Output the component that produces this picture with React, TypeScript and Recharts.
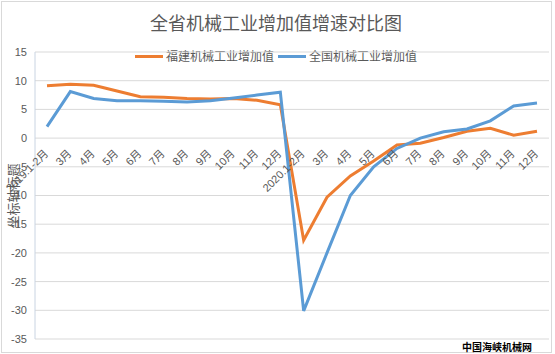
import React from 'react'
import { LineChart, Line, XAxis, YAxis, CartesianGrid } from 'recharts'

// x-axis categories: 2019 and 2020, cumulative months
const categories = [
  '2019.1-2月', '3月', '4月', '5月', '6月', '7月', '8月', '9月', '10月', '11月', '12月',
  '2020.1-2月', '3月', '4月', '5月', '6月', '7月', '8月', '9月', '10月', '11月', '12月',
]

// growth rate, %
const fujianValues = [
  9.1, 9.4, 9.2, 8.2, 7.2, 7.1, 6.9, 6.8, 6.9, 6.6, 5.8,
  -17.8, -10.3, -6.6, -4.0, -1.2, -0.9, 0.1, 1.2, 1.7, 0.5, 1.2,
]
const nationalValues = [
  2.0, 8.1, 6.9, 6.5, 6.5, 6.4, 6.3, 6.5, 7.0, 7.5, 8.0,
  -30.1, -20.0, -10.0, -5.0, -1.8, 0.0, 1.1, 1.6, 3.0, 5.6, 6.1,
]

const yTicks = [-35, -30, -25, -20, -15, -10, -5, 0, 5, 10, 15]

const seriesNames = ['福建机械工业增加值', '全国机械工业增加值']
const seriesColors = ['#ED7D31', '#5B9BD5']

const data = categories.map((label, i) => ({
  label,
  fujian: fujianValues[i],
  national: nationalValues[i],
}))

const W = 555
const H = 354
const PLOT_TOP = 52
const PLOT_BOTTOM = 15
const PLOT_H = H - PLOT_TOP - PLOT_BOTTOM
// the category labels sit under the 0 line, as in Excel
const ZERO_Y = PLOT_TOP + PLOT_H * (15 / 50)

const FONT = "'Liberation Sans', 'Noto Sans CJK SC', sans-serif"
const CJK = "'Noto Sans CJK SC', sans-serif"

const renderXTick = (props: any) => {
  const { x, payload, index } = props
  const tx = x + 2
  const ty = ZERO_Y + 16
  return (
    <text
      key={index}
      x={tx}
      y={ty}
      transform={`rotate(-45 ${tx} ${ty})`}
      textAnchor="end"
      fontSize={11}
      fontFamily={FONT}
      fill="#595959"
    >
      {payload.value}
    </text>
  )
}

export default function App() {
  return (
    <div style={{ position: 'absolute', left: 0, top: 0, width: W, height: H, background: '#fff' }}>
      <div
        style={{
          position: 'absolute', left: 1, top: 1, width: 551, height: 352,
          border: '1px solid #d9d9d9', boxSizing: 'border-box',
        }}
      />
      <div
        style={{
          position: 'absolute', left: 0, top: 9, width: 552, textAlign: 'center',
          fontFamily: CJK, fontSize: 18, color: '#595959', lineHeight: '26px',
        }}
      >
        全省机械工业增加值增速对比图
      </div>

      <div
        style={{
          position: 'absolute', left: 0, top: 47, width: 552, display: 'flex',
          justifyContent: 'center', gap: 4, fontFamily: CJK, fontSize: 12,
          color: '#595959', lineHeight: '18px',
        }}
      >
        {seriesNames.map((name, i) => (
          <div key={name} style={{ display: 'flex', alignItems: 'center' }}>
            <span style={{ display: 'inline-block', width: 28, height: 3, background: seriesColors[i], marginRight: 3 }} />
            {name}
          </div>
        ))}
      </div>

      <div style={{ position: 'absolute', left: 0, top: 0 }}>
        <LineChart
          width={W}
          height={H}
          data={data}
          margin={{ top: PLOT_TOP, right: 6, bottom: PLOT_BOTTOM - 1, left: 5 }}
        >
          <CartesianGrid vertical={false} stroke="#d9d9d9" />
          <XAxis
            dataKey="label"
            height={1}
            interval={0}
            padding={{ left: 12, right: 12 }}
            axisLine={false}
            tickLine={false}
            tick={renderXTick}
          />
          <YAxis
            width={30}
            domain={[-35, 15]}
            ticks={yTicks}
            interval={0}
            axisLine={{ stroke: '#c9d4e2' }}
            tickLine={false}
            tick={{ fontSize: 11, fill: '#595959', fontFamily: FONT }}
          />
          <Line
            type="linear"
            dataKey="fujian"
            name={seriesNames[0]}
            stroke={seriesColors[0]}
            strokeWidth={3}
            dot={false}
            isAnimationActive={false}
          />
          <Line
            type="linear"
            dataKey="national"
            name={seriesNames[1]}
            stroke={seriesColors[1]}
            strokeWidth={3}
            dot={false}
            isAnimationActive={false}
          />
        </LineChart>
      </div>

      <div
        style={{
          position: 'absolute', left: 13 - 40, top: 196 - 10, width: 80, height: 20,
          transform: 'rotate(-90deg)', textAlign: 'center', fontFamily: CJK,
          fontSize: 13, color: '#595959', lineHeight: '20px',
        }}
      >
        坐标轴标题
      </div>

      <div
        style={{
          position: 'absolute', left: 462, top: 340, fontFamily: CJK, fontSize: 10,
          fontWeight: 'bold', color: '#000', lineHeight: '14px',
        }}
      >
        中国海峡机械网
      </div>
    </div>
  )
}
